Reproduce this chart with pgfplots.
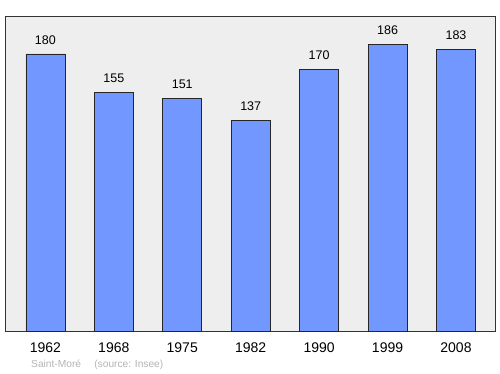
\documentclass[border=0pt]{standalone}
\usepackage{pgfplots}
\pgfplotsset{compat=1.18}
\usepackage{fontspec}
\setmainfont{Liberation Sans}
\definecolor{barblue}{RGB}{114,151,255}
\definecolor{bggray}{RGB}{238,238,238}
\definecolor{srcgray}{RGB}{180,180,180}
\begin{document}
\begin{tikzpicture}[x=1pt,y=1pt]
\path[use as bounding box] (0,0) rectangle (500,374);
\begin{axis}[
  at={(5pt,43pt)}, anchor=south west,
  scale only axis, width=490pt, height=315pt,
  xmin=-0.59, xmax=6.57, ymin=0, ymax=204.6,
  axis background/.style={fill=bggray},
  axis line style={draw=black!80, line width=0.9pt},
  ybar, bar width=39pt,
  xtick=data,
  xticklabels={1962,1968,1975,1982,1990,1999,2008},
  xticklabel style={font=\fontsize{14}{16}\selectfont, yshift=-8pt},
  ytick=\empty,
  major tick length=0pt,
  /pgf/number format/assume math mode=true,
  nodes near coords,
  nodes near coords style={font=\fontsize{12.5}{14}\selectfont, yshift=6pt},
  clip=false,
]
\addplot[fill=barblue, draw=black!85, line width=0.6pt] coordinates {
 (0,180) (1,155) (2,151) (3,137) (4,170) (5,186) (6,183)
};
\end{axis}
\node[anchor=base west, text=srcgray, font=\fontsize{10.2}{12}\selectfont, inner sep=0] at (31,6) {Saint-Moré\hspace{1.3em}(source: Insee)};
\end{tikzpicture}
\end{document}
